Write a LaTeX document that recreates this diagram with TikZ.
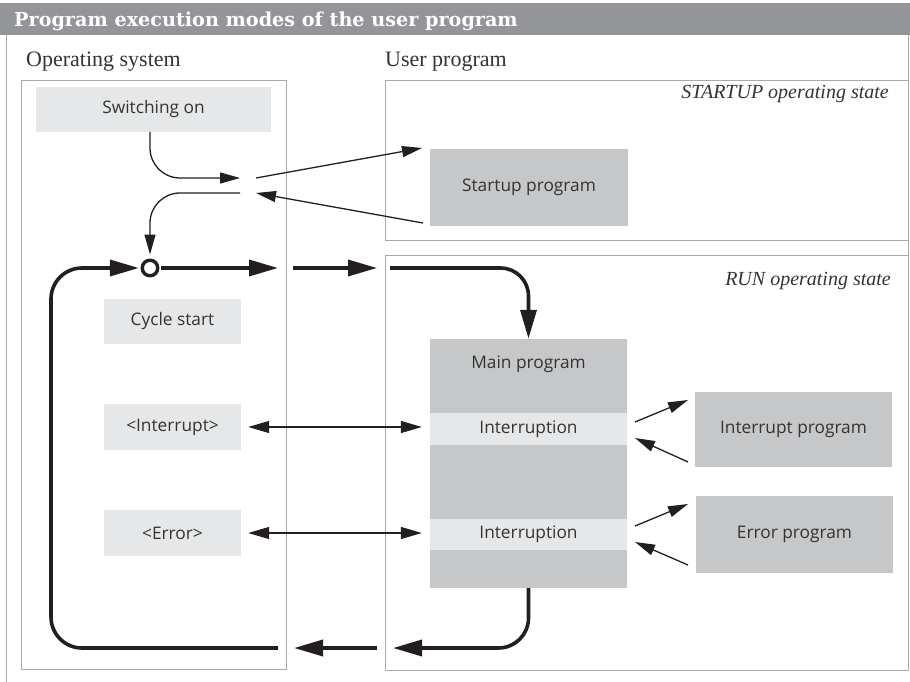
\documentclass[tikz,border=0pt]{standalone}
\usepackage{fontspec}
\setmainfont{Liberation Serif}
\newfontfamily\titlefont{DejaVu Serif}
\newfontfamily\boxfont{Open Sans}
\usetikzlibrary{arrows.meta,calc}
\definecolor{titlegray}{HTML}{939598}
\definecolor{framegray}{HTML}{A7A9AC}
\definecolor{darkbox}{HTML}{C6C7C9}
\definecolor{lightbox}{HTML}{E6E7E8}
\definecolor{ink}{HTML}{231F20}
\definecolor{txt}{HTML}{333333}
\begin{document}
\begin{tikzpicture}[x=1pt,y=-1pt,
  frame/.style={draw=framegray, line width=1pt, inner sep=0pt, fill=none},
  lbox/.style={fill=lightbox, inner sep=0pt, text=txt, font=\boxfont\fontsize{17.3}{20}\selectfont},
  dbox/.style={fill=darkbox, inner sep=0pt, text=txt, font=\boxfont\fontsize{17.3}{20}\selectfont},
  heading/.style={anchor=base west, inner sep=0pt, text=txt, font=\fontsize{22}{25}\selectfont},
  statelabel/.style={anchor=base east, inner sep=0pt, text=txt, font=\itshape\fontsize{20}{24}\selectfont},
  thinarrow/.style={draw=ink, line width=1.3pt, -{Triangle[length=20pt,width=11pt]}},
  dblarrow/.style={draw=ink, line width=1.3pt, {Triangle[length=21pt,width=12pt]}-{Triangle[length=21pt,width=12pt]}},
  thickarrow/.style={draw=ink, line width=3.6pt, -{Triangle[length=29pt,width=16pt]}}
]
\useasboundingbox (0,0) rectangle (910,682);
% title bar
\fill[titlegray] (0,3) rectangle (910,35);
\node[anchor=base west, inner sep=0pt, text=white, font=\titlefont\bfseries\fontsize{19.2}{22}\selectfont] (title) at (14,27) {Program execution modes of the user program};
% outer frame lines
\draw[framegray, line width=1pt] (6,35) -- (6,682);
\draw[framegray, line width=1pt] (908,35) -- (908,670);
% headings
\node[heading] (hos) at (26,67) {Operating system};
\node[heading] (hup) at (385,67) {User program};
% frames
\node[frame, minimum width=265pt, minimum height=588pt] (os) at (153.5,375) {};
\node[frame, minimum width=523pt, minimum height=159pt] (su) at (646.5,160.5) {};
\node[frame, minimum width=523pt, minimum height=415pt] (run) at (646.5,462.5) {};
\node[statelabel] (sul) at (889,99) {STARTUP operating state};
\node[statelabel] (runl) at (891,285) {RUN operating state};
% operating-system boxes
\node[lbox, minimum width=235pt, minimum height=45pt] (sw) at (153.5,109.5) {Switching on};
\node[lbox, minimum width=137pt, minimum height=45pt] (cs) at (172.5,321.5) {Cycle start};
\node[lbox, minimum width=137pt, minimum height=46pt] (ib) at (172.5,427) {<Interrupt>};
\node[lbox, minimum width=137pt, minimum height=46pt] (eb) at (172.5,533) {<Error>};
% user program boxes
\node[dbox, minimum width=198pt, minimum height=77pt] (sp) at (529,187.5) {Startup program};
\node[dbox, minimum width=197pt, minimum height=249pt] (mp) at (528.5,463.5) {};
\node[dbox, inner sep=0pt] (mpl) at (528.5,364) {Main program};
\node[lbox, minimum width=197pt, minimum height=32pt] (int1) at (528.5,429) {Interruption};
\node[lbox, minimum width=197pt, minimum height=31pt] (int2) at (528.5,534.5) {Interruption};
\node[dbox, minimum width=197pt, minimum height=75pt] (ip) at (793.5,429.5) {Interrupt program};
\node[dbox, minimum width=197pt, minimum height=77pt] (ep) at (794.5,534.5) {Error program};
% junction coordinates
\coordinate (s1) at (150,132);
\coordinate (j1) at (240,178);
\coordinate (j2) at (256,178);
\coordinate (j3) at (256,193);
\coordinate (j4) at (240,193);
\coordinate (sa) at (422,148);
\coordinate (sb) at (423,223);
% startup flow
\draw[thinarrow, rounded corners=30pt] (s1) |- (j1);
\draw[thinarrow] (j2) -- (sa);
\draw[thinarrow] (sb) -- (j3);
% cycle circle
\node[circle, draw=ink, fill=white, line width=3.4pt, minimum size=15.5pt, inner sep=0pt] (c) at (150,268) {};
\draw[thinarrow, rounded corners=30pt, shorten >=4pt] (j4) -| (c.north);
% thick cycle
\coordinate (t1) at (278,268);
\coordinate (t2) at (293,268);
\coordinate (t3) at (377,268);
\coordinate (t4) at (390,268);
\coordinate (b1) at (393,648);
\coordinate (b2) at (377,648);
\coordinate (b3) at (294,648);
\coordinate (b4) at (278,648);
\coordinate (lc) at (51,268);
\draw[thickarrow, shorten <=1.7pt] (c.east) -- (t1);
\draw[thickarrow] (t2) -- (t3);
\draw[thickarrow, rounded corners=28pt] (t4) -| (mp.north);
\draw[thickarrow, rounded corners=30pt] (mp.south) |- (b1);
\draw[thickarrow] (b2) -- (b3);
\draw[thickarrow, rounded corners=31pt, shorten >=1.7pt] (b4) -| (lc) -- (c.west);
% interrupt / error double arrows
\draw[dblarrow, shorten <=7pt, shorten >=8pt] (ib.east) -- (ib.east -| int1.west);
\draw[dblarrow, shorten <=7pt, shorten >=8pt] (eb.east) -- (eb.east -| int2.west);
% side arrows
\coordinate (ia1) at (635,422);
\coordinate (ia2) at (688,400);
\coordinate (ia3) at (688,462);
\coordinate (ia4) at (635,438);
\coordinate (ea1) at (635,526);
\coordinate (ea2) at (688,504);
\coordinate (ea3) at (688,565);
\coordinate (ea4) at (635,542);
\draw[thinarrow] (ia1) -- (ia2);
\draw[thinarrow] (ia3) -- (ia4);
\draw[thinarrow] (ea1) -- (ea2);
\draw[thinarrow] (ea3) -- (ea4);
\end{tikzpicture}
\end{document}
